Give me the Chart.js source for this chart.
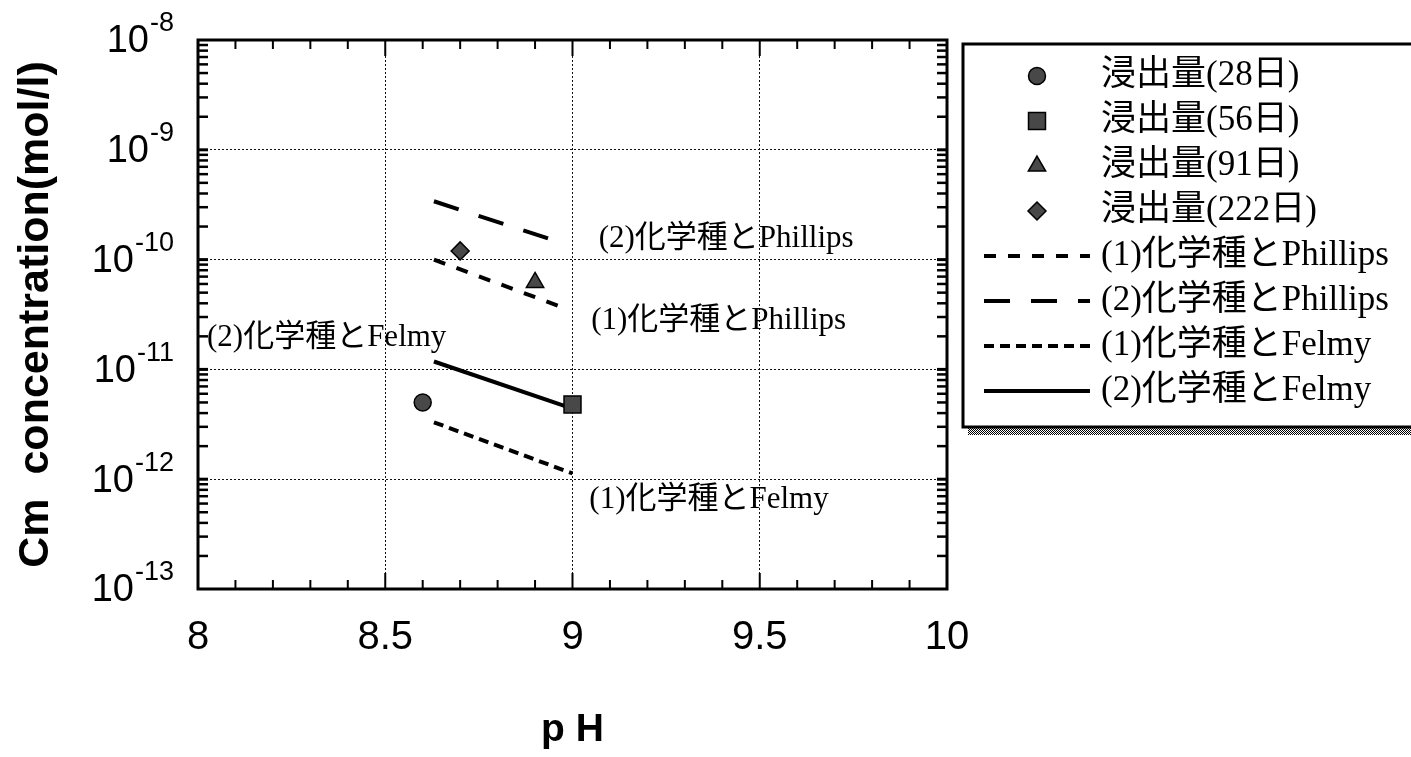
<!DOCTYPE html>
<html><head><meta charset="utf-8">
<script src="https://cdn.jsdelivr.net/npm/chart.js@4.4.1/dist/chart.umd.min.js"></script>
<style>html,body{margin:0;padding:0;background:#fff;overflow:hidden}</style>
</head><body>
<canvas id="c" width="1411" height="757" style="width:1411px;height:757px;display:block"></canvas>
<script>
// ---- data ----
const seriesLabels = ['浸出量(28日)','浸出量(56日)','浸出量(91日)','浸出量(222日)',
  '(1)化学種とPhillips','(2)化学種とPhillips','(1)化学種とFelmy','(2)化学種とFelmy'];
const leachPH   = [8.6, 9.0, 8.9, 8.7];
const leachConc = [5.0e-12, 4.8e-12, 6.2e-11, 1.2e-10];
const phillips1PH   = [8.63, 8.98];
const phillips1Conc = [1.0e-10, 3.6e-11];
const phillips2PH   = [8.63, 8.96];
const phillips2Conc = [3.4e-10, 1.46e-10];
const felmy1PH   = [8.63, 9.0];
const felmy1Conc = [3.3e-12, 1.13e-12];
const felmy2PH   = [8.63, 9.0];
const felmy2Conc = [1.18e-11, 4.4e-12];
const xTickValues = [8, 8.5, 9, 9.5, 10];
const yExponents = [-8, -9, -10, -11, -12, -13];
const noteTexts = ['(2)化学種とPhillips','(1)化学種とPhillips','(2)化学種とFelmy','(1)化学種とFelmy'];
const notePH   = [9.07, 9.05, 8.024, 9.045];
const noteConc = [1.55e-10, 2.79e-11, 1.95e-11, 6.44e-13];

// ---- styling ----
const markerStyles = ['circle','rect','triangle','rectRot'];
const markerRadii  = [8.5, 12, 10, 9];
const lineDashes = [[12,12],[26,21],[10,6],[]];
const pts = (xs, ys) => xs.map((v,i)=>({x:v, y:ys[i]}));
const lineSets = [[phillips1PH,phillips1Conc],[phillips2PH,phillips2Conc],[felmy1PH,felmy1Conc],[felmy2PH,felmy2Conc]];

const datasets = [];
leachPH.forEach((p,i)=>{
  datasets.push({label: seriesLabels[i], data:[{x:p, y:leachConc[i]}], showLine:false,
    pointStyle: markerStyles[i], pointRadius: markerRadii[i], pointHoverRadius: markerRadii[i],
    pointBackgroundColor:'#484848', pointBorderColor:'#000', pointBorderWidth:1.5});
});
lineSets.forEach((s,i)=>{
  datasets.push({label: seriesLabels[4+i], data: pts(s[0], s[1]), showLine:true, fill:false,
    borderColor:'#000', borderWidth:4, borderDash: lineDashes[i], borderCapStyle:'butt',
    pointRadius:0, pointHoverRadius:0, tension:0});
});

const isDecade = v => { const l = Math.log10(v); return Math.abs(l - Math.round(l)) < 1e-6; };

const SERIF = '"Liberation Serif", "Noto Sans CJK JP"';

function drawMarker(ctx, style, r, x, y){
  ctx.beginPath();
  if (style === 'circle') { ctx.arc(x, y, r, 0, Math.PI*2); }
  else if (style === 'rect') { const s = Math.SQRT1_2*r; ctx.rect(x-s, y-s, 2*s, 2*s); }
  else if (style === 'triangle') {
    let rad = 0;
    ctx.moveTo(x + Math.sin(rad)*r, y - Math.cos(rad)*r);
    rad += 2*Math.PI/3; ctx.lineTo(x + Math.sin(rad)*r, y - Math.cos(rad)*r);
    rad += 2*Math.PI/3; ctx.lineTo(x + Math.sin(rad)*r, y - Math.cos(rad)*r);
    ctx.closePath();
  } else if (style === 'rectRot') {
    ctx.moveTo(x - r, y); ctx.lineTo(x, y - r); ctx.lineTo(x + r, y); ctx.lineTo(x, y + r); ctx.closePath();
  }
  ctx.fillStyle = '#484848'; ctx.fill();
  ctx.lineWidth = 1.5; ctx.strokeStyle = '#000'; ctx.stroke();
}

const decor = {
  id: 'decor',
  afterDatasetsDraw(chart){
    const {ctx, chartArea:a, scales:{x, y}} = chart;
    ctx.save();
    ctx.strokeStyle = '#000';
    ctx.setLineDash([]);
    const seg = (x1,y1,x2,y2)=>{ctx.beginPath();ctx.moveTo(x1,y1);ctx.lineTo(x2,y2);ctx.stroke();};
    for (let i = 1; i < 20; i++) {
      const px = x.getPixelForValue(8 + i*0.1);
      const major = i % 5 === 0;
      ctx.lineWidth = 2;
      const len = major ? 16 : 9;
      seg(px, a.bottom, px, a.bottom - len);
      seg(px, a.top, px, a.top + len);
    }
    for (let e = -13; e <= -9; e++) {
      for (let m = 1; m <= 9; m++) {
        if (e === -13 && m === 1) continue;
        const py = y.getPixelForValue(m * Math.pow(10, e));
        ctx.lineWidth = m === 1 ? 3 : 2.5;
        seg(a.left, py, a.left + 10, py);
        seg(a.right, py, a.right - 10, py);
      }
    }
    ctx.lineWidth = 3;
    ctx.strokeRect(a.left, a.top, a.right - a.left, a.bottom - a.top);
    ctx.restore();
  },
  afterDraw(chart){
    const {ctx, scales:{x, y}} = chart;
    ctx.save();
    // y tick labels with superscript exponents
    ctx.fillStyle = '#000';
    ctx.textBaseline = 'middle';
    ctx.textAlign = 'left';
    yExponents.forEach(e=>{
      const py = y.getPixelForValue(Math.pow(10, e));
      const exp = String(e);
      ctx.font = '27px "Liberation Sans"';
      const ew = ctx.measureText(exp).width;
      ctx.font = '38px "Liberation Sans"';
      const bw = ctx.measureText('10').width;
      const right = 174;
      ctx.fillText('10', right - ew - bw - 1, py + 2);
      ctx.font = '27px "Liberation Sans"';
      ctx.fillText(exp, right - ew, py - 16);
    });
    // annotations next to the lines
    ctx.font = '31px ' + SERIF;
    noteTexts.forEach((t,i)=>{
      ctx.fillText(t, x.getPixelForValue(notePH[i]), y.getPixelForValue(noteConc[i]));
    });
    // legend box
    const L = 963, T = 44, R = 1425, B = 427;
    const pc = document.createElement('canvas'); pc.width = 2; pc.height = 2;
    const pctx = pc.getContext('2d');
    pctx.fillStyle = '#fff'; pctx.fillRect(0,0,2,2);
    pctx.fillStyle = '#000'; pctx.fillRect(0,0,1,1); pctx.fillRect(1,1,1,1);
    ctx.fillStyle = ctx.createPattern(pc, 'repeat');
    ctx.fillRect(L + 5, B, R - L, 8);
    ctx.fillStyle = '#fff';
    ctx.fillRect(L, T, R - L, B - T);
    ctx.lineWidth = 3; ctx.strokeStyle = '#000'; ctx.setLineDash([]);
    ctx.strokeRect(L, T, R - L, B - T);
    const ds = chart.data.datasets;
    ds.forEach((d,i)=>{
      const ry = 76 + i*45;
      if (!d.showLine) {
        drawMarker(ctx, d.pointStyle, d.pointRadius, 1037, ry);
      } else {
        ctx.save();
        ctx.lineWidth = 4; ctx.strokeStyle = '#000'; ctx.lineCap = 'butt';
        ctx.setLineDash(d.borderDash || []);
        ctx.beginPath(); ctx.moveTo(984, ry); ctx.lineTo(1090, ry); ctx.stroke();
        ctx.restore();
      }
      ctx.fillStyle = '#000';
      ctx.font = '35px ' + SERIF;
      ctx.textBaseline = 'middle'; ctx.textAlign = 'left';
      ctx.fillText(d.label, 1101, ry);
    });
    ctx.restore();
  }
};

new Chart(document.getElementById('c'), {
  type: 'scatter',
  data: { datasets },
  options: {
    responsive: false,
    animation: false,
    devicePixelRatio: 1,
    events: [],
    layout: { padding: { top: 40, right: 464, left: 0, bottom: 0 } },
    plugins: { legend: { display: false }, tooltip: { enabled: false } },
    scales: {
      x: {
        type: 'linear', min: 8, max: 10,
        afterBuildTicks: s => { s.ticks = xTickValues.map(v => ({value: v})); },
        afterFit: s => { s.height = 168; },
        ticks: { color: '#000', padding: 25, font: { family: 'Liberation Sans', size: 40 },
                 maxRotation: 0, autoSkip: false, callback: v => String(Number(v)) },
        grid: { color: '#111', lineWidth: 1, drawTicks: false },
        border: { display: false, dash: [2, 2] },
        title: { display: true, text: 'p H', color: '#000',
                 font: { family: 'Liberation Sans', size: 39, weight: 'bold' },
                 padding: { top: 0, bottom: 3 } }
      },
      y: {
        type: 'logarithmic', min: 1e-13, max: 1e-8,
        afterFit: s => { s.width = 198; },
        ticks: { display: false },
        grid: { color: c => (c.tick && isDecade(c.tick.value)) ? '#111' : 'rgba(0,0,0,0)',
                lineWidth: 1, drawTicks: false },
        border: { display: false, dash: [2, 2] },
        title: { display: true, text: 'Cm  concentration(mol/l)', color: '#000',
                 font: { family: 'Liberation Sans', size: 43, weight: 'bold' },
                 padding: { top: 10, bottom: 0 } }
      }
    }
  },
  plugins: [decor]
});
</script>
</body></html>
